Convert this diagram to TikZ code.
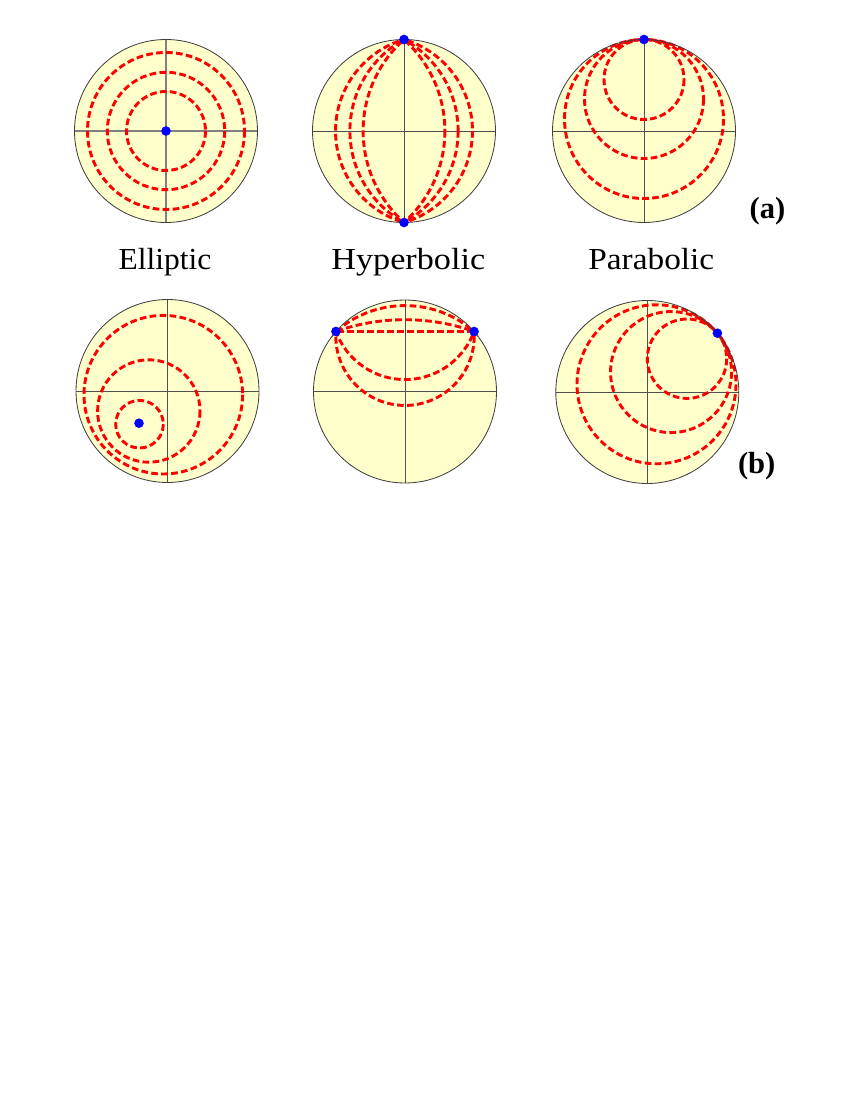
\documentclass[tikz,border=0pt]{standalone}
\usepackage{fontspec}
\setmainfont{Liberation Serif}
\definecolor{discfill}{RGB}{255,255,204}
\definecolor{curvered}{RGB}{255,0,0}
\definecolor{dotblue}{RGB}{0,0,255}
\definecolor{axisgray}{RGB}{80,80,80}
\definecolor{axislight}{RGB}{128,128,128}
\begin{document}
\begin{tikzpicture}[x=0.72pt,y=-0.72pt,
  disc/.style={fill=discfill},
  rim/.style={draw=black!75, line width=0.6pt},
  axis/.style={draw=axisgray, line width=0.6pt},
  flow/.style={draw=curvered, line width=2.1pt, dash pattern=on 4.8pt off 2.4pt},
  fixpt/.style={fill=dotblue},
  caption/.style={font=\fontsize{22}{27}\selectfont, anchor=base, inner sep=0pt},
  tag/.style={font=\fontsize{22}{26}\selectfont\bfseries, anchor=base, inner sep=0pt}]
\useasboundingbox (0,0) rectangle (850,1100);
\fill[white] (0,0) rectangle (850,1100);
\def\R{91.5}
% ---------- (a) Elliptic ----------
\begin{scope}[shift={(166,131)}]
  \fill[disc] (0,0) circle (\R);
  \draw[axis, draw=axislight, line width=0.9pt] (-\R,0) -- (\R,0) (0,-\R) -- (0,\R);
  \draw[flow] (0,0) circle (39.5) (0,0) circle (58.7) (0,0) circle (78.5);
  \draw[rim] (0,0) circle (\R);
  \fill[fixpt] (0,0) circle (4.8);
\end{scope}
% ---------- (a) Hyperbolic ----------
\begin{scope}[shift={(404,131)}]
  \fill[disc] (0,0) circle (\R);
  \draw[axis] (-\R,0) -- (\R,0) (0,-\R) -- (0,\R);
  \begin{scope}
    \clip (0,0) circle (\R);
    \foreach \c/\r in {26.9/95.37,50.3/104.41,82.0/122.87} {
      \draw[flow] (\c,0) circle (\r);
      \draw[flow] (-\c,0) circle (\r);
    }
  \end{scope}
  \draw[rim] (0,0) circle (\R);
  \fill[fixpt] (0,-\R) circle (4.8) (0,\R) circle (4.8);
\end{scope}
% ---------- (a) Parabolic ----------
\begin{scope}[shift={(644,131)}]
  \fill[disc] (0,0) circle (\R);
  \draw[axis] (-\R,0) -- (\R,0) (0,-\R) -- (0,\R);
  \foreach \r in {40,59.5,79.5} {
    \draw[flow] (0,{-(\R-\r)}) circle (\r);
  }
  \draw[rim] (0,0) circle (\R);
  \fill[fixpt] (0,-\R) circle (4.8);
\end{scope}
% ---------- (b) Elliptic ----------
\begin{scope}[shift={(167.5,391)}]
  \fill[disc] (0,0) circle (\R);
  \draw[axis] (-\R,0) -- (\R,0) (0,-\R) -- (0,\R);
  \draw[flow] (-28,33.2) circle (23.8) (-18.7,20) circle (51.2) (-4.2,3.7) circle (79.3);
  \draw[rim] (0,0) circle (\R);
  \fill[fixpt] (-28.5,32.2) circle (4.8);
\end{scope}
% ---------- (b) Hyperbolic ----------
\begin{scope}[shift={(405,391.5)}]
  \fill[disc] (0,0) circle (\R);
  \draw[axis] (-\R,0) -- (\R,0) (0,-\R) -- (0,\R);
  \begin{scope}
    \clip (0,0) circle (\R);
    \draw[flow] (-41:\R) -- (-139:\R);
    \foreach \yc/\r in {19.2/105.1,136.1/207.9,-85.6/73.64,-55.3/69.22} {
      \draw[flow] (0,\yc) circle (\r);
    }
  \end{scope}
  \draw[rim] (0,0) circle (\R);
  \fill[fixpt] (-41:\R) circle (4.8) (-139:\R) circle (4.8);
\end{scope}
% ---------- (b) Parabolic ----------
\begin{scope}[shift={(647.3,392)}]
  \fill[disc] (0,0) circle (\R);
  \draw[axis] (-\R,0) -- (\R,0) (0,-\R) -- (0,\R);
  \foreach \r in {39.7,60.5,79.5} {
    \draw[flow] (-40:{\R-\r}) circle (\r);
  }
  \draw[rim] (0,0) circle (\R);
  \fill[fixpt] (-40:\R) circle (4.8);
\end{scope}
% ---------- labels ----------
\node[caption] (ell) at (165,269) {\scalebox{1.03}[1]{Elliptic}};
\node[caption] (hyp) at (408.3,269) {\scalebox{1.12}[1]{Hyperbolic}};
\node[caption] (par) at (651.3,269) {\scalebox{1.09}[1]{Parabolic}};
\node[tag] (taga) at (767.5,218) {(a)};
\node[tag] (tagb) at (756.7,473) {(b)};
\end{tikzpicture}
\end{document}
